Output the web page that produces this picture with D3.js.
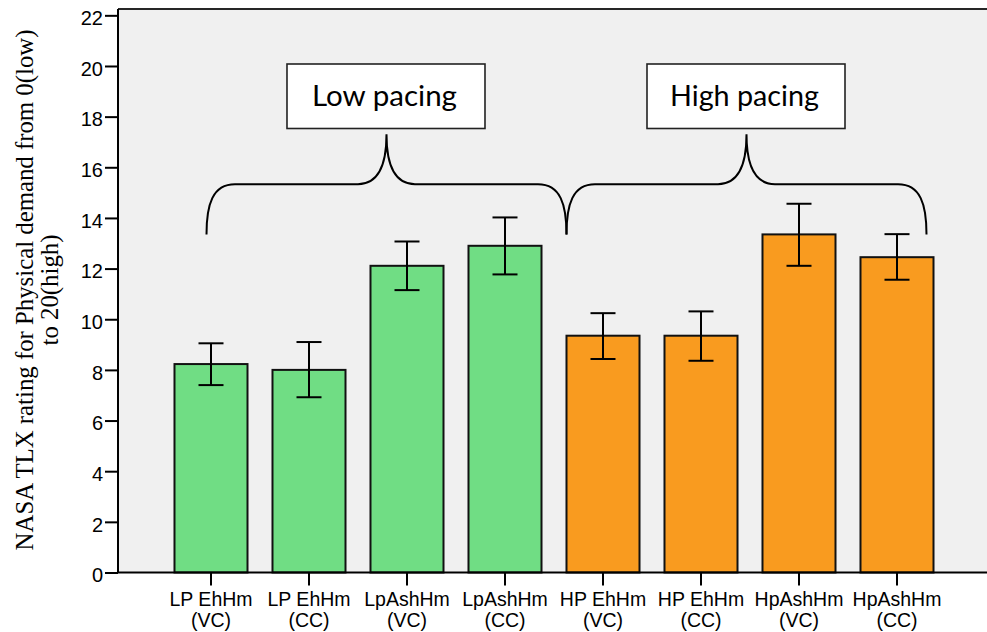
<!DOCTYPE html>
<html>
<head>
<meta charset="utf-8">
<script src="https://cdn.jsdelivr.net/npm/d3@7"></script>
<style>
  html, body { margin: 0; padding: 0; background: #ffffff; }
  svg { display: block; }
</style>
</head>
<body>
<svg id="chart" width="987" height="632"></svg>
<script>
// ---- data ----
const categories = ["LP EhHm|(VC)", "LP EhHm|(CC)", "LpAshHm|(VC)", "LpAshHm|(CC)",
                    "HP EhHm|(VC)", "HP EhHm|(CC)", "HpAshHm|(VC)", "HpAshHm|(CC)"];
const means = [8.23, 8.0, 12.11, 12.9, 9.35, 9.35, 13.35, 12.45];
const upper = [9.05, 9.1, 13.07, 14.02, 10.24, 10.31, 14.56, 13.36];
const lower = [7.4, 6.92, 11.15, 11.77, 8.43, 8.36, 12.11, 11.56];
const groups = ["low", "low", "low", "low", "high", "high", "high", "high"];
const yTicks = [0, 2, 4, 6, 8, 10, 12, 14, 16, 18, 20, 22];
const groupLabels = ["Low pacing", "High pacing"];
const yTitle = ["NASA TLX rating for Physical demand from 0(low)", "to 20(high)"];

// ---- layout ----
const svg = d3.select("#chart");
const plot = { left: 118, right: 990, top: 9, bottom: 572.5 };
const colors = { low: "#70dd84", high: "#f99b1f" };

const x = d3.scaleBand().domain(categories).range([162, 946])
  .paddingInner(0.255).paddingOuter(0.1275);
const y = d3.scaleLinear().domain([0, 22.25]).range([plot.bottom, plot.top]);

// background
svg.append("rect").attr("x", plot.left).attr("y", plot.top)
  .attr("width", plot.right - plot.left).attr("height", plot.bottom - plot.top)
  .attr("fill", "#f0f0f0");
svg.append("line").attr("x1", plot.left).attr("x2", plot.right)
  .attr("y1", plot.top).attr("y2", plot.top)
  .attr("stroke", "#262626").attr("stroke-width", 2);

// bars
svg.append("g").selectAll("rect").data(categories).join("rect")
  .attr("x", d => x(d))
  .attr("y", (d, i) => y(means[i]))
  .attr("width", x.bandwidth())
  .attr("height", (d, i) => y(0) - y(means[i]))
  .attr("fill", (d, i) => colors[groups[i]])
  .attr("stroke", "#111").attr("stroke-width", 2);

// error bars
const eb = svg.append("g").attr("stroke", "#000").attr("stroke-width", 2);
categories.forEach((c, i) => {
  const cx = x(c) + x.bandwidth() / 2;
  eb.append("line").attr("x1", cx).attr("x2", cx).attr("y1", y(upper[i])).attr("y2", y(lower[i]));
  eb.append("line").attr("x1", cx - 12.5).attr("x2", cx + 12.5).attr("y1", y(upper[i])).attr("y2", y(upper[i]));
  eb.append("line").attr("x1", cx - 12.5).attr("x2", cx + 12.5).attr("y1", y(lower[i])).attr("y2", y(lower[i]));
});

// y axis
const yAxis = svg.append("g").attr("transform", `translate(${plot.left},0)`)
  .call(d3.axisLeft(y).tickValues(yTicks).tickSize(13).tickPadding(2).tickSizeOuter(0));
yAxis.select(".domain").attr("stroke", "#000").attr("stroke-width", 2)
  .attr("d", `M0,${plot.bottom}V${plot.top}`);
yAxis.selectAll(".tick line").attr("stroke", "#000").attr("stroke-width", 2);
yAxis.selectAll(".tick text").attr("font-family", "Liberation Sans, Arial, sans-serif")
  .attr("font-size", 20).attr("fill", "#000").attr("dy", "0.46em");

// x axis
const xAxis = svg.append("g").attr("transform", `translate(0,${plot.bottom})`)
  .call(d3.axisBottom(x).tickSize(13).tickSizeOuter(0));
xAxis.select(".domain").attr("stroke", "#000").attr("stroke-width", 2)
  .attr("d", `M${plot.left},0H${plot.right}`);
xAxis.selectAll(".tick line").attr("stroke", "#000").attr("stroke-width", 2);
xAxis.selectAll(".tick text").each(function(d) {
  const t = d3.select(this);
  const parts = d.split("|");
  t.text(null).attr("y", 0).attr("dy", null)
    .attr("font-family", "Liberation Sans, Arial, sans-serif")
    .attr("font-size", 19.5).attr("fill", "#000");
  t.append("tspan").attr("x", 0).attr("y", 33.2).text(parts[0]);
  t.append("tspan").attr("x", 0).attr("y", 54.2).text(parts[1]);
});

// y title
const yt = svg.append("text")
  .attr("transform", "translate(33,290) rotate(-90)")
  .attr("text-anchor", "middle")
  .attr("font-family", "Liberation Serif, Times New Roman, serif")
  .attr("font-size", 24.8).attr("fill", "#000");
yt.append("tspan").attr("x", 0).attr("y", 0).text(yTitle[0]);
yt.append("tspan").attr("x", 0).attr("y", 25).text(yTitle[1]);

// braces + labels
const bw = x.bandwidth();
const braces = [
  { x0: x(categories[0]) + 32, x1: x(categories[4]) },
  { x0: x(categories[4]), x1: x(categories[7]) + bw - 7 }
];
const yEnd = y(13.35), yMid = y(15.33), yTip = y(17.3);
function bracePath(x0, x1) {
  const xm = (x0 + x1) / 2;
  const r = 28.5;
  return `M${x0},${yEnd}` +
    `C${x0},${yEnd - 30} ${x0 + 6},${yMid} ${x0 + r},${yMid}` +
    `L${xm - r},${yMid}` +
    `C${xm - 10},${yMid} ${xm},${yMid - 16} ${xm},${yTip}` +
    `C${xm},${yMid - 16} ${xm + 10},${yMid} ${xm + r},${yMid}` +
    `L${x1 - r},${yMid}` +
    `C${x1 - 6},${yMid} ${x1},${yEnd - 30} ${x1},${yEnd}`;
}
braces.forEach((b, i) => {
  svg.append("path").attr("d", bracePath(b.x0, b.x1))
    .attr("fill", "none").attr("stroke", "#000").attr("stroke-width", 2);
  const xm = (b.x0 + b.x1) / 2;
  const bxW = 198, bxH = 64.5;
  svg.append("rect").attr("x", xm - bxW / 2 - 0.5).attr("y", 64)
    .attr("width", bxW).attr("height", bxH)
    .attr("fill", "#fff").attr("stroke", "#222").attr("stroke-width", 1.6);
  const t = svg.append("text").attr("x", xm - 2).attr("y", 106)
    .attr("text-anchor", "middle")
    .attr("font-family", "Lato, Open Sans, sans-serif")
    .attr("font-size", 28).attr("fill", "#000").text(groupLabels[i]);
  const target = i === 0 ? 145 : 149;
  const len = t.node().getComputedTextLength();
  t.attr("font-size", 28 * target / len);
});
</script>
</body>
</html>
